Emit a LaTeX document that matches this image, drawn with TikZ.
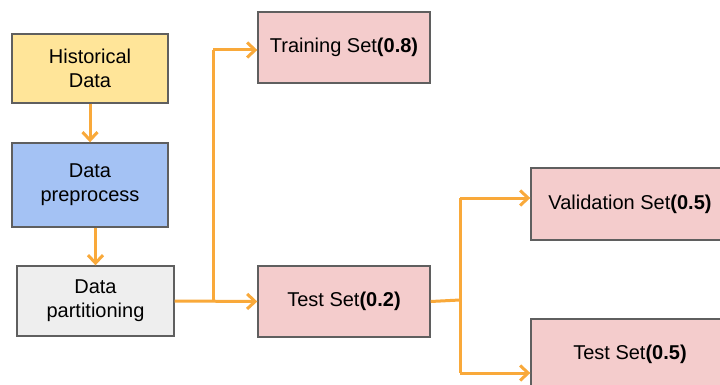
\documentclass[tikz,border=0pt]{standalone}
\usepackage{fontspec}
\setmainfont{Liberation Sans}
\usetikzlibrary{arrows.meta}
\definecolor{flow}{HTML}{F9A93A}
\definecolor{edge}{HTML}{5F5F5F}
\definecolor{yellowbox}{HTML}{FFE599}
\definecolor{bluebox}{HTML}{A4C2F4}
\definecolor{greybox}{HTML}{EEEEEE}
\definecolor{pinkbox}{HTML}{F4CCCC}
\tikzset{
  stage/.style={draw=edge, line width=1.4pt, align=center, inner sep=0pt,
    font=\fontsize{20}{24}\selectfont, text=black},
  link/.style={draw=flow, line width=3pt, line join=round,
    -{Straight Barb[length=8pt, width=15pt, line width=3pt]}},
  wire/.style={draw=flow, line width=3pt, line join=round}
}
\begin{document}
\begin{tikzpicture}[x=1pt, y=-1pt]
\useasboundingbox (0,0) rectangle (720,385);
\fill[white] (0,0) rectangle (720,385);

% pipeline on the left
\node[stage, fill=yellowbox, minimum width=156pt, minimum height=69pt] (hist) at (90,68.5) {Historical\\Data};
\node[stage, fill=bluebox, minimum width=156pt, minimum height=84pt] (prep) at (90,185) {Data\\preprocess};
\node[stage, fill=greybox, minimum width=157pt, minimum height=70pt] (part) at (95.5,301) {Data\\partitioning};

% first split
\node[stage, fill=pinkbox, minimum width=172pt, minimum height=71pt] (train) at (344,47.5) {Training Set\textbf{(0.8)}};
\node[stage, fill=pinkbox, minimum width=172pt, minimum height=71pt] (test) at (344,301.5) {Test Set\textbf{(0.2)}};

% second split
\node[stage, fill=pinkbox, minimum width=198pt, minimum height=72pt] (val) at (630,204) {Validation Set\textbf{(0.5)}};
\node[stage, fill=pinkbox, minimum width=198pt, minimum height=70pt] (final) at (630,354) {Test Set\textbf{(0.5)}};

% connectors
\draw[link] (hist.south) -- (prep.north);
\draw[link] (part.north |- prep.south) -- (part.north);

\coordinate (s1) at (213,301);
\coordinate (s1top) at (213,50);
\draw[link] (part.east) -- (test.west);
\draw[wire] (s1) -- (s1top);
\draw[link] (s1top) -- (s1top -| train.west);

\coordinate (s2) at (460,300);
\coordinate (s2top) at (460,198);
\coordinate (s2bot) at (460,373);
\draw[wire] (test.east) -- (s2);
\draw[wire] (s2top) -- (s2bot);
\draw[link] (s2top) -- (s2top -| val.west);
\draw[link] (s2bot) -- (s2bot -| final.west);
\end{tikzpicture}
\end{document}
